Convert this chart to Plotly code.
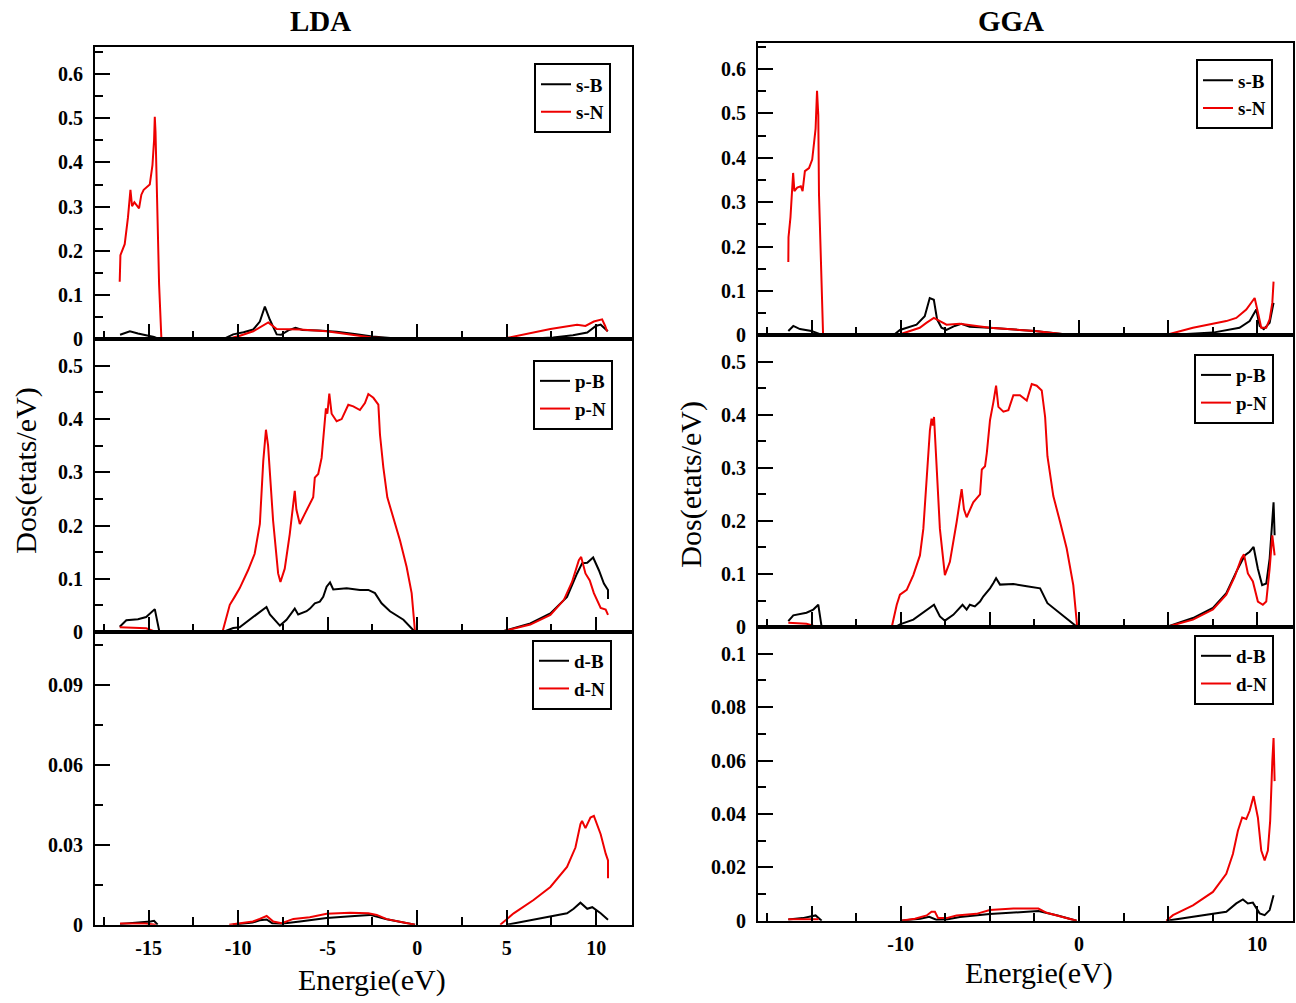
import plotly.graph_objects as go

# ---------------------------------------------------------------------------
# Partial DOS of BN, LDA (left column) and GGA (right column)
# Energies in eV, DOS in etats/eV; None separates band segments.
# ---------------------------------------------------------------------------

# ---- LDA, s states
LDA_S_B_E = [-16.6, -16.3, -16.05, -15.6, -15.14, -14.7, -14.4, None,
             -10.84, -10.28, -9.7, -9.16, -8.79, -8.51, -8.23, -7.85, -7.6, -7.2, -6.8, -6.4,
             -5.5, -4.5, -3.5, -2.5, -1.5, -0.6, None,
             4.7, 6.1, 7.6, 8.7, 9.5, 9.98, 10.25, 10.55, 10.65]
LDA_S_B = [0.010, 0.014, 0.018, 0.013, 0.009, 0.005, 0.0, None,
           0.0, 0.011, 0.016, 0.022, 0.040, 0.074, 0.044, 0.011, 0.010, 0.020, 0.026, 0.021,
           0.020, 0.017, 0.012, 0.006, 0.003, 0.0, None,
           0.0, 0.001, 0.004, 0.009, 0.015, 0.030, 0.033, 0.022, 0.018]
LDA_S_N_E = [-16.62, -16.58, -16.34, -16.16, -16.02, -15.93, -15.8, -15.54, -15.41, -15.28,
             -14.94, -14.79, -14.70, -14.66, -14.62, -14.57, -14.48, -14.42, -14.29, None,
             -10.65, -9.9, -9.16, -8.7, -8.32, -7.85, -7.0, -6.55, -5.06, -3.8, -2.54, -1.5, -0.58, None,
             4.64, 6.0, 7.44, 8.93, 9.4, 9.87, 10.33, 10.5, 10.61]
LDA_S_N = [0.13, 0.19, 0.215, 0.275, 0.338, 0.301, 0.31, 0.296, 0.327, 0.338,
           0.35, 0.394, 0.45, 0.503, 0.47, 0.387, 0.215, 0.125, 0.0, None,
           0.0, 0.008, 0.018, 0.028, 0.038, 0.023, 0.022, 0.022, 0.018, 0.011, 0.004, 0.002, 0.0, None,
           0.0, 0.011, 0.023, 0.033, 0.030, 0.040, 0.045, 0.030, 0.018]

# ---- LDA, p states
LDA_P_B_E = [-16.62, -16.25, -15.6, -15.14, -14.66, -14.4, None,
             -10.84, -10.28, -9.92, -9.16, -8.6, -8.42, -8.23, -7.67, -7.3, -6.84, -6.65, -6.18,
             -5.99, -5.72, -5.44, -5.25, -5.06, -4.87, -4.69, -3.94, -3.2, -2.73, -2.36, -1.99,
             -1.52, -0.77, -0.12, None,
             4.64, 6.32, 7.44, 8.37, 8.93, 9.21, 9.5, 9.83, 10.15, 10.43, 10.66, 10.66]
LDA_P_B = [0.010, 0.022, 0.024, 0.028, 0.043, 0.0, None,
           0.0, 0.0075, 0.009, 0.029, 0.042, 0.047, 0.033, 0.012, 0.023, 0.044, 0.033, 0.039,
           0.044, 0.054, 0.057, 0.066, 0.085, 0.093, 0.080, 0.082, 0.079, 0.079, 0.073, 0.054,
           0.039, 0.023, 0.0, None,
           0.0, 0.016, 0.035, 0.066, 0.110, 0.129, 0.130, 0.140, 0.116, 0.091, 0.079, 0.062]
LDA_P_N_E = [-16.62, -15.14, -14.6, None,
             -10.88, -10.47, -10.2, -9.92, -9.45, -9.08, -8.79, -8.6, -8.45, -8.33, -8.05, -7.77,
             -7.64, -7.4, -7.12, -6.84, -6.75, -6.56, -6.28, -6.0, -5.81, -5.72, -5.53, -5.34,
             -5.21, -5.1, -5.02, -4.91, -4.78, -4.5, -4.22, -3.85, -3.57, -3.2, -2.92, -2.73,
             -2.45, -2.17, -2.08, -1.89, -1.67, -1.33, -0.96, -0.59, -0.31, -0.12, None,
             4.64, 6.32, 7.44, 8.19, 8.65, 9.03, 9.16, 9.4, 9.64, 9.87, 10.25, 10.53, 10.66]
LDA_P_N = [0.0087, 0.007, 0.0, None,
           0.0, 0.051, 0.066, 0.082, 0.116, 0.147, 0.203, 0.321, 0.380, 0.350, 0.209, 0.110,
           0.094, 0.119, 0.184, 0.265, 0.230, 0.203, 0.222, 0.240, 0.253, 0.290, 0.297, 0.327,
           0.377, 0.420, 0.410, 0.448, 0.410, 0.396, 0.400, 0.427, 0.424, 0.417, 0.430, 0.447,
           0.440, 0.427, 0.371, 0.309, 0.253, 0.216, 0.172, 0.122, 0.073, 0.0, None,
           0.0, 0.014, 0.032, 0.060, 0.094, 0.135, 0.141, 0.110, 0.097, 0.073, 0.045, 0.042, 0.032]

# ---- LDA, d states
LDA_D_B_E = [-16.6, -15.5, -14.9, -14.7, -14.5, None,
             -10.3, -9.2, -8.8, -8.41, -8.1, -7.6, -6.55, -5.06, -3.7, -2.64, -1.7, -0.96, -0.12, None,
             5.0, 6.5, 8.37, 8.74, 9.12, 9.5, 9.78, 10.25, 10.66]
LDA_D_B = [0.0003, 0.0008, 0.0012, 0.0015, 0.0, None,
           0.0, 0.0008, 0.0017, 0.0020, 0.0006, 0.0004, 0.0012, 0.0025, 0.0032, 0.0037, 0.0021, 0.0012, 0.0, None,
           0.0, 0.0019, 0.0043, 0.0060, 0.0083, 0.0060, 0.0066, 0.0043, 0.0019]
LDA_D_N_E = [-16.6, -15.2, -14.6, None,
             -10.5, -9.18, -8.8, -8.41, -8.04, -7.57, -6.92, -6.0, -5.06, -3.75, -2.73, -2.26,
             -1.7, -0.96, -0.12, None,
             4.64, 5.39, 6.5, 7.44, 8.37, 8.84, 9.12, 9.21, 9.4, 9.68, 9.87, 10.25, 10.53, 10.66, 10.66]
LDA_D_N = [0.0005, 0.0005, 0.0, None,
           0.0, 0.0012, 0.0022, 0.0033, 0.0012, 0.0006, 0.0022, 0.0028, 0.0041, 0.0045, 0.0043, 0.0037,
           0.0021, 0.0012, 0.0, None,
           0.0, 0.0043, 0.0093, 0.0142, 0.0217, 0.0290, 0.0378, 0.0390, 0.0363, 0.0403, 0.0409,
           0.0340, 0.0267, 0.0242, 0.0175]

# ---- GGA, s states
GGA_S_B_E = [-16.3, -16.02, -15.65, -15.0, -14.48, -14.3, None,
             -10.41, -10.04, -9.11, -8.65, -8.37, -8.14, -7.96, -7.71, -7.43, -6.97, -6.6, -6.13,
             -5.0, -2.48, -0.7, -0.3, None,
             4.8, 6.0, 7.51, 9.0, 9.57, 9.94, 10.13, 10.36, 10.69, 10.91]
GGA_S_B = [0.0096, 0.021, 0.014, 0.0096, 0.002, 0.0, None,
           0.0, 0.012, 0.024, 0.043, 0.084, 0.080, 0.036, 0.017, 0.012, 0.021, 0.026, 0.019,
           0.017, 0.0096, 0.002, 0.0, None,
           0.0, 0.002, 0.006, 0.017, 0.032, 0.058, 0.021, 0.014, 0.028, 0.073]
GGA_S_N_E = [-16.3, -16.29, -16.18, -16.08, -16.03, -15.96, -15.8, -15.6, -15.5, -15.37,
             -15.14, -14.96, -14.86, -14.77, -14.69, -14.62, -14.58, -14.48, -14.43, -14.35, None,
             -10.2, -8.93, -8.56, -8.14, -7.8, -7.43, -6.69, -5.57, -5.0, -2.48, -0.7, -0.3, None,
             4.81, 6.39, 8.26, 8.82, 9.38, 9.85, 10.03, 10.22, 10.5, 10.69, 10.84, 10.91]
GGA_S_N = [0.165, 0.221, 0.266, 0.325, 0.366, 0.325, 0.333, 0.336, 0.325, 0.370,
           0.377, 0.396, 0.429, 0.466, 0.551, 0.496, 0.318, 0.199, 0.095, 0.0, None,
           0.0, 0.017, 0.028, 0.039, 0.032, 0.024, 0.026, 0.021, 0.017, 0.0096, 0.002, 0.0, None,
           0.0, 0.017, 0.032, 0.039, 0.058, 0.084, 0.052, 0.017, 0.017, 0.036, 0.073, 0.121]

# ---- GGA, p states
GGA_P_B_E = [-16.3, -16.02, -15.28, -14.9, -14.62, -14.43, None,
             -10.3, -10.04, -9.29, -8.54, -8.13, -7.8, -7.52, -7.05, -6.53, -6.3, -6.12, -5.84,
             -5.55, -5.36, -4.99, -4.8, -4.65, -4.43, -3.68, -2.93, -2.18, -1.77, -1.06, -0.1, None,
             4.9, 6.39, 7.51, 8.26, 8.82, 9.29, 9.57, 9.79, 10.03, 10.27, 10.5, 10.69, 10.91, 10.97]
GGA_P_B = [0.011, 0.022, 0.027, 0.033, 0.042, 0.0, None,
           0.0, 0.005, 0.014, 0.033, 0.042, 0.020, 0.012, 0.023, 0.042, 0.033, 0.042, 0.039,
           0.048, 0.058, 0.073, 0.083, 0.092, 0.080, 0.081, 0.077, 0.073, 0.045, 0.026, 0.0, None,
           0.0, 0.017, 0.036, 0.064, 0.104, 0.135, 0.142, 0.151, 0.110, 0.079, 0.082, 0.129, 0.235, 0.173]
GGA_P_N_E = [-16.3, -15.28, -14.77, None,
             -10.5, -10.22, -10.04, -9.66, -9.29, -8.92, -8.73, -8.54, -8.36, -8.27, -8.2, -8.13,
             -7.99, -7.8, -7.52, -7.24, -6.86, -6.58, -6.45, -6.3, -5.93, -5.55, -5.45, -5.27,
             -5.17, -4.99, -4.8, -4.65, -4.52, -4.24, -3.96, -3.68, -3.31, -2.93, -2.65, -2.37,
             -2.09, -1.9, -1.77, -1.44, -1.06, -0.69, -0.32, -0.1, None,
             4.9, 6.39, 7.51, 8.26, 8.73, 9.1, 9.25, 9.47, 9.75, 10.03, 10.31, 10.5, 10.69, 10.84, 10.97]
GGA_P_N = [0.008, 0.006, 0.001, None,
           0.0, 0.042, 0.061, 0.070, 0.098, 0.135, 0.185, 0.272, 0.371, 0.393, 0.380, 0.396,
           0.309, 0.185, 0.098, 0.123, 0.198, 0.260, 0.222, 0.207, 0.235, 0.250, 0.297, 0.303,
           0.328, 0.390, 0.424, 0.455, 0.415, 0.406, 0.409, 0.437, 0.437, 0.427, 0.458, 0.455,
           0.446, 0.396, 0.322, 0.247, 0.198, 0.148, 0.079, 0.0, None,
           0.0, 0.014, 0.033, 0.061, 0.095, 0.129, 0.137, 0.101, 0.086, 0.048, 0.042, 0.048, 0.110, 0.173, 0.135]

# ---- GGA, d states
GGA_D_B_E = [-16.3, -15.5, -14.77, -14.43, None,
             -10.0, -8.9, -8.4, -8.0, -7.43, -6.68, -5.0, -2.28, -1.2, -0.13, None,
             4.9, 6.39, 8.26, 8.82, 9.19, 9.47, 9.75, 10.13, 10.41, 10.69, 10.91]
GGA_D_B = [0.0005, 0.001, 0.002, 0.0, None,
           0.0, 0.0008, 0.0015, 0.0004, 0.0005, 0.0014, 0.0025, 0.0037, 0.002, 0.0, None,
           0.0, 0.0015, 0.0034, 0.0065, 0.0080, 0.0065, 0.0068, 0.0028, 0.0021, 0.0040, 0.0096]
GGA_D_N_E = [-16.3, -14.6, None,
             -10.0, -9.2, -8.54, -8.27, -8.08, -7.9, -7.43, -6.87, -5.75, -5.0, -3.68, -2.28, -1.81, -0.13, None,
             4.9, 5.27, 6.39, 7.51, 8.26, 8.63, 8.91, 9.15, 9.38, 9.57, 9.79, 10.03, 10.22, 10.41,
             10.59, 10.72, 10.84, 10.91, 10.97]
GGA_D_N = [0.0006, 0.0006, None,
           0.0, 0.0008, 0.002, 0.0034, 0.0034, 0.001, 0.001, 0.002, 0.0026, 0.004, 0.0046, 0.0046, 0.003, 0.0, None,
           0.0, 0.0021, 0.0058, 0.0108, 0.0176, 0.0250, 0.0337, 0.0387, 0.0381, 0.0412, 0.0467, 0.0387,
           0.0263, 0.0226, 0.0263, 0.0374, 0.0597, 0.0684, 0.0523]

# Tick labels
X_TICKS = [-15, -10, -5, 0, 5, 10]
LDA_X_LABELS = ["-15", "-10", "-5", "0", "5", "10"]
GGA_X_LABELS = ["", "-10", "", "0", "", "10"]
Y_TICKS_S = [0, 0.1, 0.2, 0.3, 0.4, 0.5, 0.6]
Y_LABELS_S = ["0", "0.1", "0.2", "0.3", "0.4", "0.5", "0.6"]
Y_TICKS_P = [0, 0.1, 0.2, 0.3, 0.4, 0.5]
Y_LABELS_P = ["0", "0.1", "0.2", "0.3", "0.4", "0.5"]
Y_TICKS_D_LDA = [0, 0.03, 0.06, 0.09]
Y_LABELS_D_LDA = ["0", "0.03", "0.06", "0.09"]
Y_TICKS_D_GGA = [0, 0.02, 0.04, 0.06, 0.08, 0.1]
Y_LABELS_D_GGA = ["0", "0.02", "0.04", "0.06", "0.08", "0.1"]

W, H = 1296, 1003
SERIF = "Liberation Serif"
BLACK, RED = "#000000", "#ee0000"


def px_x(p):
    return p / W


def px_y(p):
    return 1 - p / H


fig = go.Figure()

# (panel id, B energies, B dos, N energies, N dos, orbital)
panels = [
    (1, LDA_S_B_E, LDA_S_B, LDA_S_N_E, LDA_S_N, "s"),
    (2, LDA_P_B_E, LDA_P_B, LDA_P_N_E, LDA_P_N, "p"),
    (3, LDA_D_B_E, LDA_D_B, LDA_D_N_E, LDA_D_N, "d"),
    (4, GGA_S_B_E, GGA_S_B, GGA_S_N_E, GGA_S_N, "s"),
    (5, GGA_P_B_E, GGA_P_B, GGA_P_N_E, GGA_P_N, "p"),
    (6, GGA_D_B_E, GGA_D_B, GGA_D_N_E, GGA_D_N, "d"),
]

for idx, eb, db, en, dn, orb in panels:
    sfx = "" if idx == 1 else str(idx)
    leg = "legend" + sfx
    fig.add_trace(go.Scatter(x=eb, y=db, mode="lines", name=f"{orb}-B",
                             line=dict(color=BLACK, width=2), xaxis="x" + sfx, yaxis="y" + sfx,
                             legend=leg, connectgaps=False))
    fig.add_trace(go.Scatter(x=en, y=dn, mode="lines", name=f"{orb}-N",
                             line=dict(color=RED, width=2), xaxis="x" + sfx, yaxis="y" + sfx,
                             legend=leg, connectgaps=False))

tick_font = dict(family=SERIF, size=20, color="black", weight="bold")


def x_axis(domain, anchor, labels):
    return dict(domain=domain, anchor=anchor, range=[-18, 12],
                showline=True, mirror=True, linecolor="black", linewidth=2,
                showgrid=False, zeroline=False, layer="above traces",
                ticks="inside", ticklen=15, tickwidth=2, tickcolor="black",
                tickmode="array", tickvals=X_TICKS, ticktext=labels,
                showticklabels=labels is not None, tickfont=tick_font, ticklabelstandoff=4,
                minor=dict(ticks="inside", ticklen=8, tickwidth=2, tickcolor="black",
                           tickmode="linear", tick0=0, dtick=2.5))


def y_axis(domain, anchor, rng, vals, labels, minor_step):
    return dict(domain=domain, anchor=anchor, range=rng,
                showline=True, mirror=True, linecolor="black", linewidth=2,
                showgrid=False, zeroline=False, layer="above traces",
                ticks="inside", ticklen=15, tickwidth=2, tickcolor="black",
                tickmode="array", tickvals=vals, ticktext=labels,
                tickfont=tick_font, ticklabelstandoff=6,
                minor=dict(ticks="inside", ticklen=8, tickwidth=2, tickcolor="black",
                           tickmode="linear", tick0=0, dtick=minor_step))


# Panel geometry (pixels)
L_X = [px_x(95), px_x(632)]
R_X = [px_x(758), px_x(1293)]
L_ROWS = [(48, 343), (343, 639), (639, 935)]
R_ROWS = [(43, 339), (339, 634), (634, 931)]

layout_axes = {}
for i, (top, bot) in enumerate(L_ROWS):
    n = i + 1
    sfx = "" if n == 1 else str(n)
    layout_axes["xaxis" + sfx] = x_axis(L_X, "y" + sfx, LDA_X_LABELS if n == 3 else None)
for i, (top, bot) in enumerate(R_ROWS):
    n = i + 4
    layout_axes["xaxis" + str(n)] = x_axis(R_X, "y" + str(n), GGA_X_LABELS if n == 6 else None)

layout_axes["yaxis"] = y_axis([px_y(343), px_y(48)], "x", [0, 0.66], Y_TICKS_S, Y_LABELS_S, 0.05)
layout_axes["yaxis2"] = y_axis([px_y(639), px_y(343)], "x2", [0, 0.55], Y_TICKS_P, Y_LABELS_P, 0.05)
layout_axes["yaxis3"] = y_axis([px_y(935), px_y(639)], "x3", [0, 0.11], Y_TICKS_D_LDA, Y_LABELS_D_LDA, 0.015)
layout_axes["yaxis4"] = y_axis([px_y(339), px_y(43)], "x4", [0, 0.66], Y_TICKS_S, Y_LABELS_S, 0.05)
layout_axes["yaxis5"] = y_axis([px_y(634), px_y(339)], "x5", [0, 0.55], Y_TICKS_P, Y_LABELS_P, 0.05)
layout_axes["yaxis6"] = y_axis([px_y(931), px_y(634)], "x6", [0, 0.11], Y_TICKS_D_GGA, Y_LABELS_D_GGA, 0.01)

# Legend boxes: (right edge px, top edge px)
legend_pos = [(611, 64), (613, 364), (612, 647), (1273, 60), (1274, 358), (1274, 642)]
legend_font = dict(family=SERIF, size=19, color="black", weight="bold")
for i, (rx, ty) in enumerate(legend_pos):
    key = "legend" if i == 0 else f"legend{i + 1}"
    layout_axes[key] = dict(x=px_x(rx), y=px_y(ty), xanchor="right", yanchor="top",
                            bgcolor="white", bordercolor="black", borderwidth=2,
                            font=legend_font, itemwidth=30, tracegroupgap=0)

title_font = dict(family=SERIF, size=29, color="black", weight="bold")
label_font = dict(family=SERIF, size=30, color="black")
annotations = [
    dict(text="LDA", x=px_x(320), y=px_y(21), font=title_font),
    dict(text="GGA", x=px_x(1011), y=px_y(21), font=title_font),
    dict(text="Energie(eV)", x=px_x(372), y=px_y(991), font=label_font),
    dict(text="Energie(eV)", x=px_x(1039), y=px_y(984), font=label_font),
    dict(text="Dos(etats/eV)", x=px_x(26), y=px_y(476), font=label_font, textangle=-90),
    dict(text="Dos(etats/eV)", x=px_x(691), y=px_y(490), font=label_font, textangle=-90),
]
for a in annotations:
    a.update(xref="paper", yref="paper", showarrow=False, xanchor="center", yanchor="middle")

fig.update_layout(
    width=W, height=H,
    margin=dict(l=0, r=0, t=0, b=0),
    paper_bgcolor="white", plot_bgcolor="white",
    showlegend=True,
    annotations=annotations,
    **layout_axes,
)

fig.write_html("out.html")
